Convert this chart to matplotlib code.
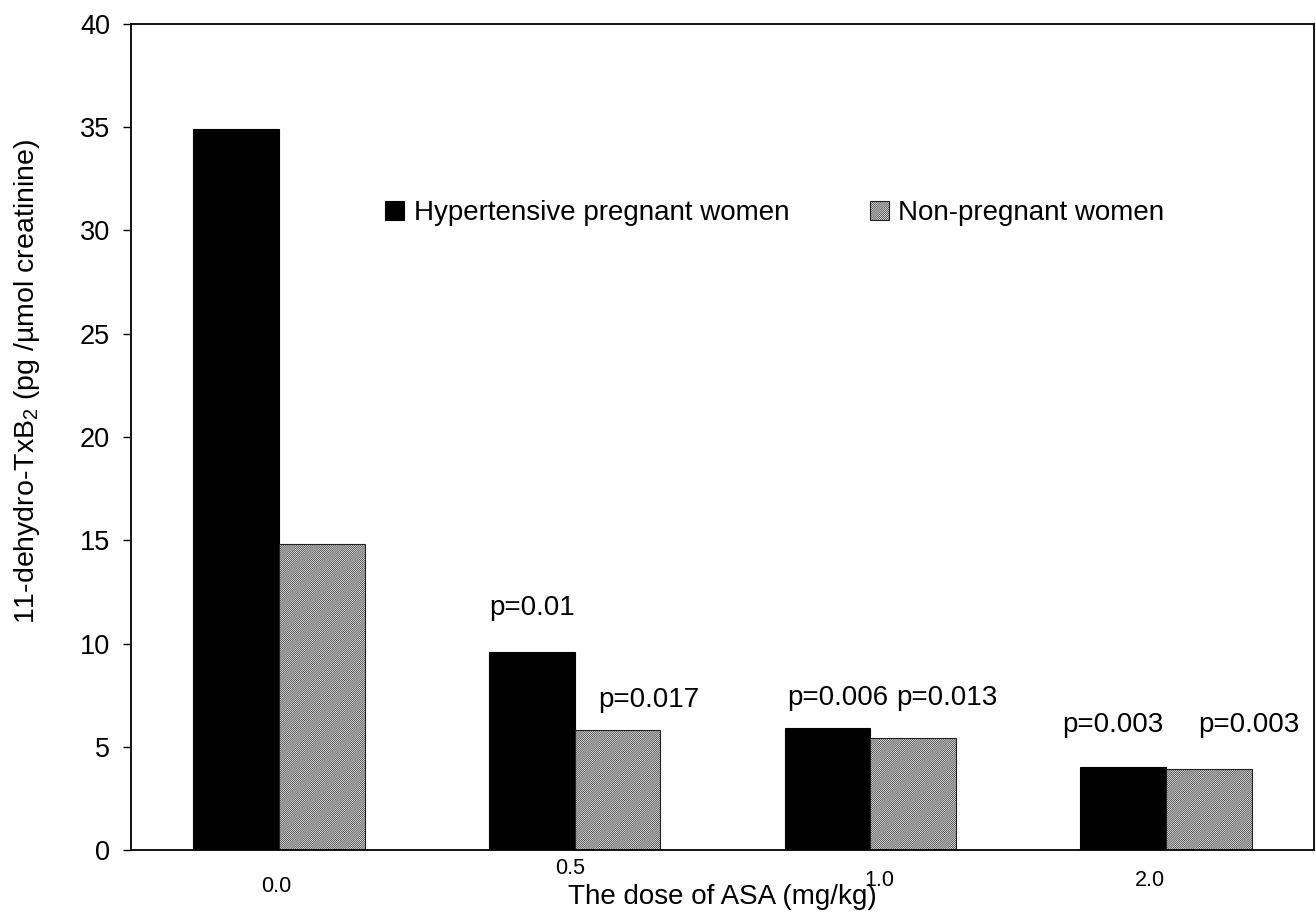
import numpy as np
import matplotlib
matplotlib.use('Agg')
import matplotlib.pyplot as plt

# données
doses = ['0.0', '0.5', '1.0', '2.0']
hypertensive = [34.9, 9.6, 5.9, 4.0]
non_pregnant = [14.8, 5.8, 5.4, 3.9]
p_hyper = ['', 'p=0.01', 'p=0.006', 'p=0.003']
p_non = ['', 'p=0.017', 'p=0.013', 'p=0.003']
p_hyper_y = [0, 11.7, 7.35, 6.05]
p_non_y = [0, 7.25, 7.35, 6.05]

plt.rcParams['font.family'] = ['Liberation Sans', 'DejaVu Sans']
plt.rcParams['mathtext.fontset'] = 'custom'
plt.rcParams['mathtext.rm'] = 'Liberation Sans'
plt.rcParams['hatch.linewidth'] = 0.5
plt.rcParams['hatch.color'] = '#4a4a4a'

fig = plt.figure(figsize=(13.16, 9.16), dpi=100)
ax = fig.add_axes([131/1316, 1 - 850/916, 1183/1316, 826/916])

x = np.arange(len(doses))
w = 0.29
ax.bar(x - w/2, hypertensive, w, color='black', edgecolor='black', linewidth=0.8,
       label='Hypertensive pregnant women')
ax.bar(x + w/2, non_pregnant, w, color='white', edgecolor='#222222', linewidth=0.8,
       hatch='/' * 16, label='Non-pregnant women')

# p-values au-dessus des barres
dx_h = [0, -0.145, -0.11, -0.18]
dx_n = [0, 0.25, 0.26, 0.28]
for i in range(len(doses)):
    if p_hyper[i]:
        ax.text(x[i] + dx_h[i], p_hyper_y[i], p_hyper[i], ha='center', va='center', fontsize=20)
    if p_non[i]:
        ax.text(x[i] + dx_n[i], p_non_y[i], p_non[i], ha='center', va='center', fontsize=20)

ax.set_xlim(-0.5, 3.5)
ax.set_ylim(0, 40)
ax.set_yticks(np.arange(0, 41, 5))
ax.tick_params(axis='y', labelsize=19.5, length=6, width=1, pad=9)
ax.set_xticks([])

# étiquettes de l'axe x, un peu décalées comme sur l'original
lab_dx = [-0.01, -0.015, 0.03, -0.055]
lab_dy = [-37, -18, -31, -31]
for i, d in enumerate(doses):
    ax.annotate(d, xy=(x[i] + lab_dx[i], 0), xytext=(0, lab_dy[i]), textcoords='offset pixels',
                ha='center', va='center', fontsize=15.5, annotation_clip=False)

fig.text(722/1316, 1 - 897/916, 'The dose of ASA (mg/kg)', ha='center', va='center', fontsize=20)
fig.text(27/1316, 1 - 381/916, '11-dehydro-TxB$_2$ (pg /µmol creatinine)', rotation=90,
         ha='center', va='center', fontsize=20.5)

for s in ax.spines.values():
    s.set_linewidth(1.3)

ax.legend(loc='center left', bbox_to_anchor=((385 - 131)/1183, (850 - 213)/826), ncol=2,
          frameon=False, fontsize=20, handlelength=0.68, handleheight=0.68,
          handletextpad=0.35, columnspacing=2.9, borderpad=0, borderaxespad=0)

fig.savefig('out.png', dpi=100)
